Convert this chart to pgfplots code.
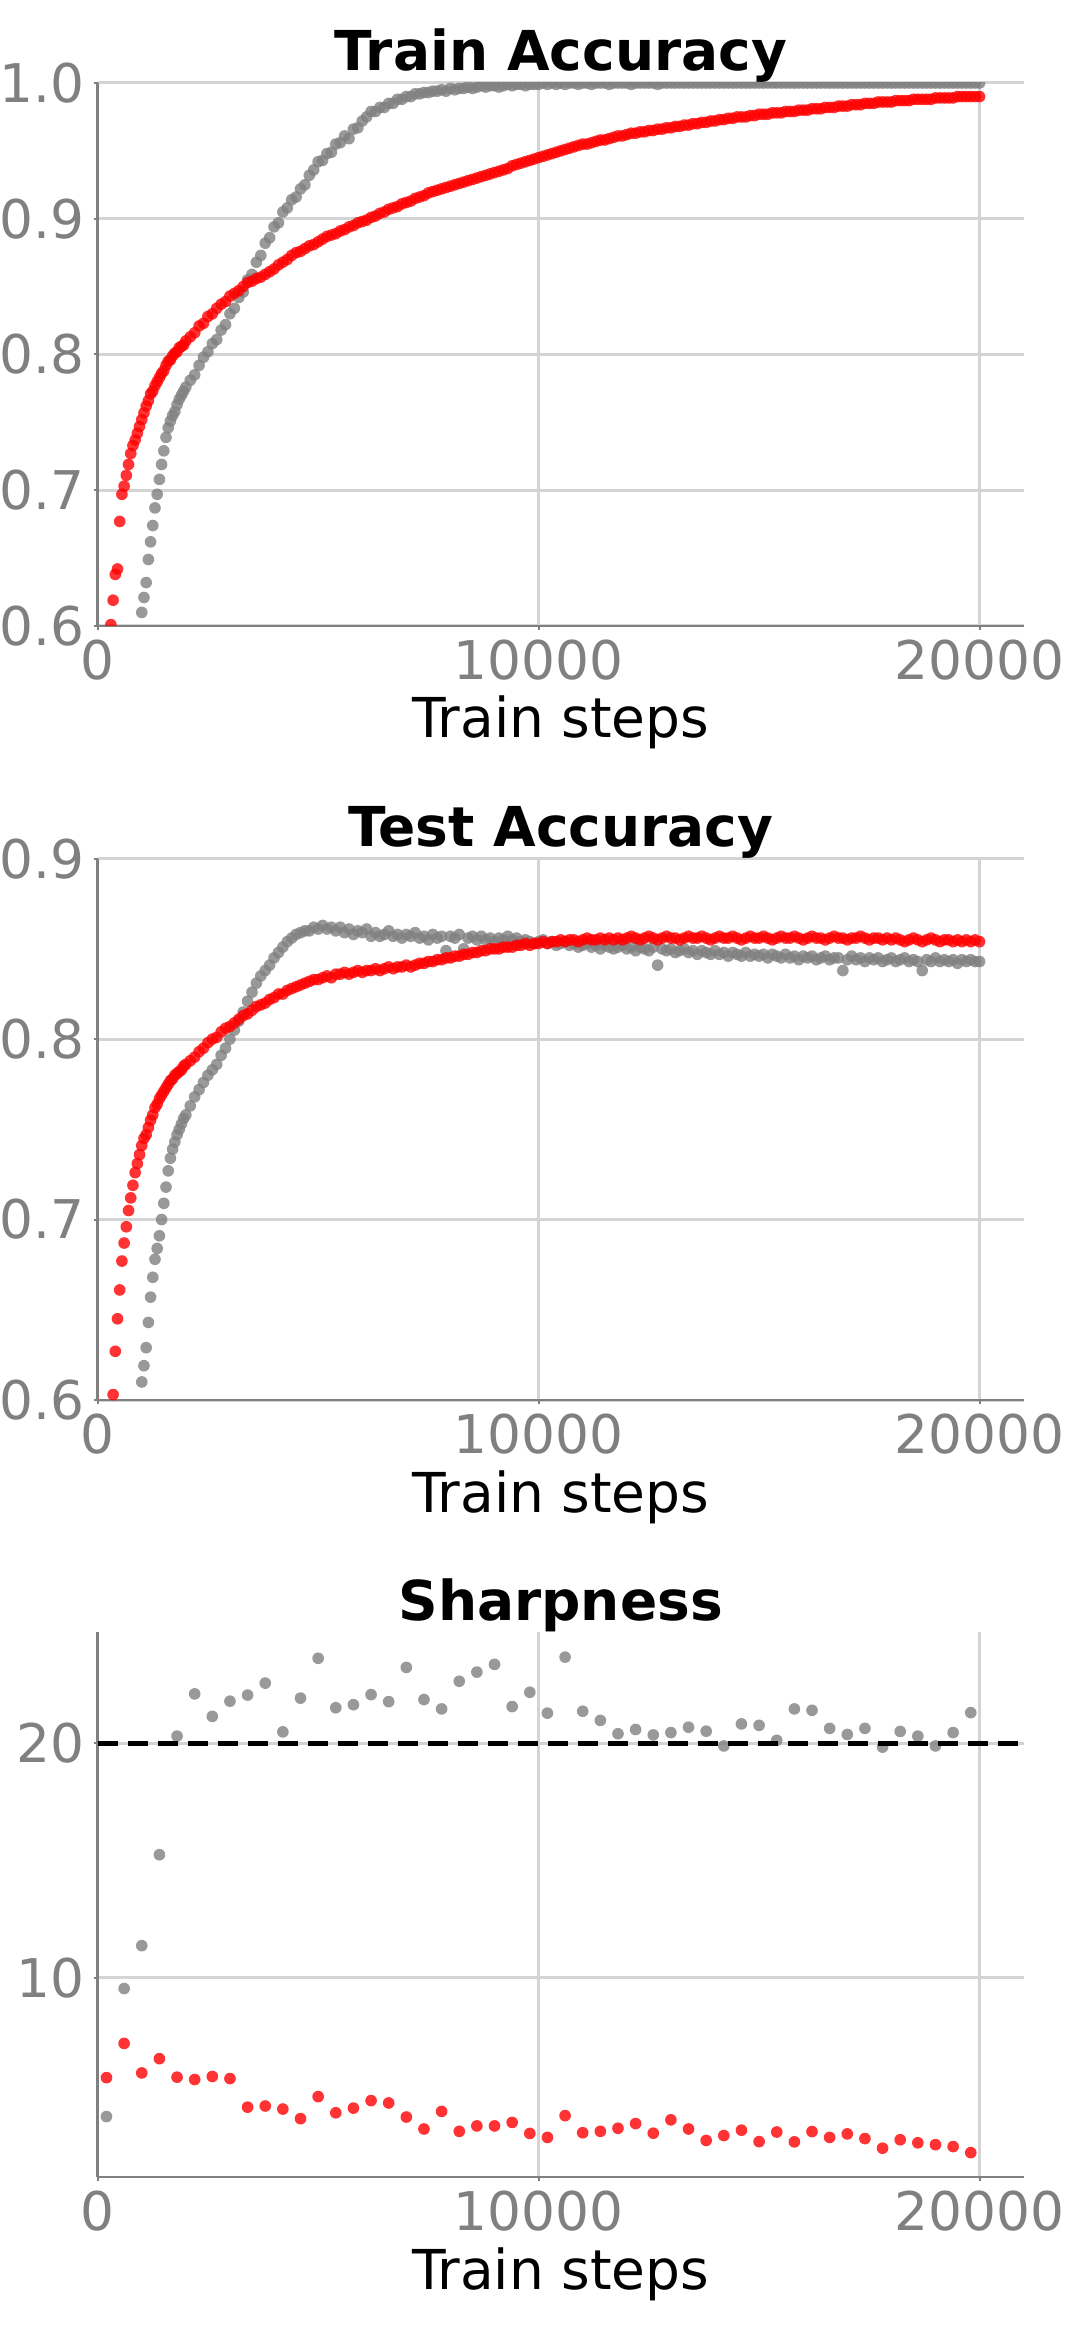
\documentclass[border=0pt]{standalone}
\usepackage{fontspec}
\setmainfont{DejaVu Sans}
\usepackage{pgfplots}
\usepackage{pgfplotstable}
\pgfplotsset{compat=1.18}

\definecolor{tickgray}{HTML}{808080}
\definecolor{gridgray}{HTML}{D4D4D4}
\definecolor{dotgray}{HTML}{808080}
\definecolor{dotred}{HTML}{FF0000}
\newcommand\fs{\fontsize{16.5}{19.8}\selectfont}
\newcommand\tfs{\fontsize{16}{19.2}\selectfont}

% accuracy curves: train (ta gray, tb red), test (va gray, vb red)
\pgfplotstableread{
x ta tb va vb
300 nan 0.601 nan nan
350 nan 0.619 nan 0.603
400 nan 0.638 nan 0.627
450 nan 0.642 nan 0.645
500 nan 0.677 nan 0.661
550 nan 0.697 nan 0.677
600 nan 0.703 nan 0.687
650 nan 0.711 nan 0.696
700 nan 0.719 nan 0.705
750 nan 0.727 nan 0.712
800 nan 0.733 nan 0.719
850 nan 0.737 nan 0.726
900 nan 0.742 nan 0.731
950 nan 0.747 nan 0.736
1000 0.610 0.752 0.610 0.741
1050 0.621 0.757 0.619 0.745
1100 0.632 0.762 0.629 0.747
1150 0.649 0.766 0.643 0.751
1200 0.662 0.771 0.657 0.755
1250 0.674 0.773 0.668 0.758
1300 0.687 0.777 0.678 0.762
1350 0.697 0.780 0.684 0.764
1400 0.708 0.783 0.691 0.767
1450 0.719 0.786 0.700 0.769
1500 0.729 0.788 0.709 0.771
1550 0.739 0.792 0.718 0.773
1600 0.746 0.795 0.727 0.775
1650 0.751 0.796 0.734 0.777
1700 0.755 0.799 0.739 0.778
1750 0.758 0.801 0.743 0.780
1800 0.763 0.802 0.747 0.781
1850 0.767 0.805 0.750 0.782
1900 0.770 0.806 0.753 0.783
1950 0.773 0.807 0.756 0.785
2000 0.776 0.810 0.758 0.786
2100 0.781 0.813 0.763 0.788
2200 0.785 0.816 0.768 0.790
2300 0.792 0.821 0.772 0.793
2400 0.798 0.823 0.776 0.795
2500 0.802 0.828 0.780 0.798
2600 0.808 0.830 0.783 0.800
2700 0.811 0.834 0.786 0.801
2800 0.818 0.837 0.791 0.804
2900 0.822 0.839 0.795 0.806
3000 0.830 0.843 0.800 0.807
3100 0.834 0.845 0.805 0.809
3200 0.842 0.847 0.810 0.811
3300 0.846 0.850 0.815 0.813
3400 0.855 0.853 0.821 0.814
3500 0.859 0.854 0.826 0.816
3600 0.868 0.856 0.831 0.818
3700 0.873 0.857 0.835 0.819
3800 0.882 0.859 0.838 0.820
3900 0.886 0.861 0.841 0.822
4000 0.894 0.863 0.845 0.823
4100 0.897 0.866 0.848 0.825
4200 0.905 0.868 0.851 0.825
4300 0.908 0.870 0.854 0.827
4400 0.914 0.873 0.856 0.828
4500 0.916 0.875 0.858 0.829
4600 0.922 0.876 0.859 0.830
4700 0.925 0.878 0.860 0.831
4800 0.932 0.880 0.860 0.832
4900 0.936 0.881 0.862 0.833
5000 0.942 0.883 0.861 0.833
5100 0.943 0.885 0.863 0.834
5200 0.948 0.887 0.861 0.835
5300 0.949 0.888 0.862 0.834
5400 0.955 0.889 0.860 0.836
5500 0.956 0.891 0.862 0.836
5600 0.961 0.892 0.859 0.837
5700 0.959 0.894 0.861 0.836
5800 0.966 0.895 0.858 0.837
5900 0.967 0.897 0.860 0.838
6000 0.972 0.898 0.859 0.837
6100 0.975 0.899 0.861 0.838
6200 0.979 0.901 0.857 0.838
6300 0.979 0.902 0.859 0.839
6400 0.982 0.904 0.857 0.838
6500 0.982 0.905 0.858 0.839
6600 0.985 0.907 0.860 0.840
6700 0.985 0.908 0.857 0.839
6800 0.988 0.909 0.858 0.840
6900 0.988 0.911 0.856 0.840
7000 0.990 0.912 0.858 0.841
7100 0.990 0.913 0.857 0.840
7200 0.992 0.915 0.859 0.841
7300 0.992 0.916 0.856 0.842
7400 0.993 0.917 0.857 0.842
7500 0.993 0.919 0.855 0.843
7600 0.994 0.920 0.858 0.843
7700 0.994 0.921 0.856 0.844
7800 0.995 0.922 0.857 0.844
7900 0.994 0.923 0.849 0.845
8000 0.996 0.924 0.857 0.845
8100 0.995 0.925 0.856 0.846
8200 0.996 0.926 0.858 0.846
8300 0.996 0.927 0.850 0.847
8400 0.997 0.928 0.856 0.847
8500 0.996 0.929 0.857 0.848
8600 0.997 0.930 0.855 0.848
8700 0.998 0.931 0.857 0.849
8800 0.997 0.932 0.855 0.849
8900 0.998 0.933 0.856 0.850
9000 0.998 0.934 0.854 0.850
9100 0.997 0.935 0.856 0.850
9200 0.998 0.936 0.855 0.851
9300 0.999 0.937 0.857 0.851
9400 0.998 0.939 0.855 0.851
9500 0.999 0.940 0.856 0.852
9600 0.999 0.941 0.854 0.852
9700 0.998 0.942 0.855 0.853
9800 0.999 0.943 0.854 0.852
9900 0.999 0.944 0.853 0.853
10000 0.999 0.945 0.854 0.853
10100 1.000 0.946 0.855 0.854
10200 0.999 0.947 0.853 0.853
10300 1.000 0.948 0.854 0.854
10400 0.999 0.949 0.852 0.854
10500 1.000 0.950 0.853 0.855
10600 0.999 0.951 0.854 0.854
10700 1.000 0.952 0.852 0.855
10800 1.000 0.953 0.853 0.855
10900 0.999 0.954 0.851 0.854
11000 1.000 0.955 0.852 0.855
11100 1.000 0.955 0.853 0.856
11200 0.999 0.956 0.851 0.855
11300 1.000 0.957 0.852 0.855
11400 1.000 0.958 0.850 0.856
11500 1.000 0.958 0.852 0.855
11600 0.999 0.959 0.851 0.856
11700 1.000 0.960 0.850 0.855
11800 1.000 0.961 0.851 0.856
11900 1.000 0.961 0.852 0.855
12000 1.000 0.962 0.850 0.856
12100 0.999 0.963 0.851 0.857
12200 1.000 0.963 0.849 0.856
12300 1.000 0.964 0.851 0.855
12400 1.000 0.964 0.850 0.856
12500 1.000 0.965 0.849 0.857
12600 1.000 0.965 0.851 0.856
12700 0.999 0.966 0.841 0.855
12800 1.000 0.966 0.850 0.856
12900 1.000 0.967 0.849 0.857
13000 1.000 0.967 0.850 0.856
13100 1.000 0.968 0.848 0.856
13200 1.000 0.968 0.849 0.855
13300 1.000 0.969 0.850 0.856
13400 1.000 0.969 0.848 0.857
13500 1.000 0.970 0.849 0.856
13600 1.000 0.970 0.847 0.856
13700 1.000 0.971 0.849 0.857
13800 1.000 0.971 0.848 0.856
13900 1.000 0.972 0.847 0.855
14000 1.000 0.972 0.849 0.856
14100 1.000 0.973 0.847 0.857
14200 1.000 0.973 0.848 0.856
14300 1.000 0.974 0.846 0.856
14400 1.000 0.974 0.848 0.857
14500 1.000 0.975 0.847 0.856
14600 1.000 0.975 0.846 0.855
14700 1.000 0.975 0.848 0.856
14800 1.000 0.976 0.846 0.857
14900 1.000 0.976 0.847 0.856
15000 1.000 0.977 0.846 0.856
15100 1.000 0.977 0.847 0.857
15200 1.000 0.977 0.845 0.856
15300 1.000 0.978 0.847 0.855
15400 1.000 0.978 0.846 0.856
15500 1.000 0.978 0.845 0.857
15600 1.000 0.979 0.847 0.856
15700 1.000 0.979 0.845 0.856
15800 1.000 0.979 0.846 0.857
15900 1.000 0.980 0.844 0.856
16000 1.000 0.980 0.846 0.855
16100 1.000 0.980 0.845 0.856
16200 1.000 0.981 0.846 0.857
16300 1.000 0.981 0.844 0.856
16400 1.000 0.981 0.845 0.856
16500 1.000 0.982 0.846 0.855
16600 1.000 0.982 0.844 0.856
16700 1.000 0.982 0.845 0.857
16800 1.000 0.983 0.845 0.856
16900 1.000 0.983 0.838 0.856
17000 1.000 0.983 0.844 0.855
17100 1.000 0.984 0.846 0.856
17200 1.000 0.984 0.844 0.856
17300 1.000 0.984 0.845 0.857
17400 1.000 0.985 0.843 0.856
17500 1.000 0.985 0.845 0.855
17600 1.000 0.985 0.844 0.856
17700 1.000 0.986 0.845 0.856
17800 1.000 0.986 0.843 0.855
17900 1.000 0.986 0.844 0.856
18000 1.000 0.986 0.845 0.855
18100 1.000 0.987 0.843 0.856
18200 1.000 0.987 0.844 0.855
18300 1.000 0.987 0.845 0.854
18400 1.000 0.987 0.843 0.855
18500 1.000 0.988 0.844 0.856
18600 1.000 0.988 0.843 0.855
18700 1.000 0.988 0.838 0.854
18800 1.000 0.988 0.844 0.855
18900 1.000 0.988 0.843 0.856
19000 1.000 0.989 0.845 0.855
19100 1.000 0.989 0.843 0.854
19200 1.000 0.989 0.844 0.855
19300 1.000 0.989 0.843 0.855
19400 1.000 0.989 0.844 0.854
19500 1.000 0.990 0.842 0.855
19600 1.000 0.990 0.844 0.854
19700 1.000 0.990 0.843 0.855
19800 1.000 0.990 0.844 0.854
19900 1.000 0.990 0.843 0.855
20000 1.000 0.990 0.843 0.854
}\acc

% sharpness: g gray, r red
\pgfplotstableread{
x g r
200 4.08 5.74
600 9.54 7.20
1000 11.37 5.94
1400 15.25 6.55
1800 20.31 5.76
2200 22.11 5.66
2600 21.15 5.79
3000 21.80 5.70
3400 22.06 4.48
3800 22.57 4.53
4200 20.49 4.40
4600 21.93 3.99
5000 23.63 4.93
5400 21.52 4.24
5800 21.65 4.44
6200 22.08 4.76
6600 21.78 4.66
7000 23.24 4.06
7400 21.87 3.55
7800 21.47 4.30
8200 22.65 3.45
8600 23.04 3.68
9000 23.37 3.68
9400 21.57 3.83
9800 22.18 3.36
10200 21.29 3.19
10600 23.68 4.12
11000 21.37 3.39
11400 20.98 3.45
11800 20.41 3.58
12200 20.59 3.78
12600 20.36 3.37
13000 20.46 3.94
13400 20.69 3.55
13800 20.52 3.06
14200 19.89 3.27
14600 20.83 3.50
15000 20.77 3.01
15400 20.13 3.42
15800 21.47 3.00
16200 21.41 3.44
16600 20.64 3.19
17000 20.38 3.34
17400 20.64 3.14
17800 19.84 2.73
18200 20.51 3.09
18600 20.31 2.96
19000 19.89 2.88
19400 20.46 2.80
19800 21.31 2.54
}\sharpdata

\pgfplotsset{
  panel/.style={
    scale only axis, width=277.8pt,
    xmin=0, xmax=21000,
    axis lines=left,
    axis line style={-, draw=tickgray, line width=0.8pt},
    grid=major,
    major grid style={draw=gridgray, line width=0.9pt},
    xtick={0,10000,20000},
    tick align=outside, major tick length=1.2pt,
    tick style={draw=tickgray, line width=0.6pt},
    ticklabel style={font=\tfs, text=tickgray},
    xticklabel style={anchor=north, inner sep=0pt, yshift=-2.7pt},
    yticklabel style={anchor=east, inner sep=0pt, xshift=-2.6pt},
    /pgf/number format/assume math mode=true,
    /pgf/number format/1000 sep={},
    scaled ticks=false,
    clip marker paths=true,
    xlabel={Train steps},
    xlabel style={at={(axis description cs:0.5,0)}, anchor=base, yshift=-33.6pt, font=\fs, text=black},
    every axis title/.style={at={(axis description cs:0.5,1)}, anchor=base, yshift=3.6pt, font=\fs\bfseries},
  },
  dots/.style={only marks, mark=*, mark size=1.75pt, color=#1,
    mark options={draw opacity=0, fill=#1, fill opacity=0.8}},
  accticks/.style={yticklabel style={/pgf/number format/fixed,
    /pgf/number format/fixed zerofill, /pgf/number format/precision=1}},
}

\begin{document}
\begin{tikzpicture}
\useasboundingbox (0,0) rectangle (323.7pt,-698.1pt);

\begin{axis}[panel, accticks, at={(29.3pt,-24.9pt)}, anchor=north west,
  height=162.9pt, ymin=0.6, ymax=1.0, ytick={0.6,0.7,0.8,0.9,1.0},
  title={Train Accuracy}]
\addplot[dots=dotgray] table[x=x, y=ta] {\acc};
\addplot[dots=dotred] table[x=x, y=tb] {\acc};
\end{axis}

\begin{axis}[panel, accticks, at={(29.3pt,-257.6pt)}, anchor=north west,
  height=162.4pt, ymin=0.6, ymax=0.9, ytick={0.6,0.7,0.8,0.9},
  title={Test Accuracy}]
\addplot[dots=dotgray] table[x=x, y=va] {\acc};
\addplot[dots=dotred] table[x=x, y=vb] {\acc};
\end{axis}

\begin{axis}[panel, at={(29.3pt,-489.6pt)}, anchor=north west,
  height=163.5pt, ymin=1.5, ymax=24.75, ytick={10,20},
  title={Sharpness}]
\addplot[dots=dotgray] table[x=x, y=g] {\sharpdata};
\addplot[dots=dotred] table[x=x, y=r] {\sharpdata};
\addplot[black, line width=1.6pt, dash pattern=on 6.2pt off 2.8pt] coordinates {(0,20) (21000,20)};
\end{axis}
\end{tikzpicture}
\end{document}
